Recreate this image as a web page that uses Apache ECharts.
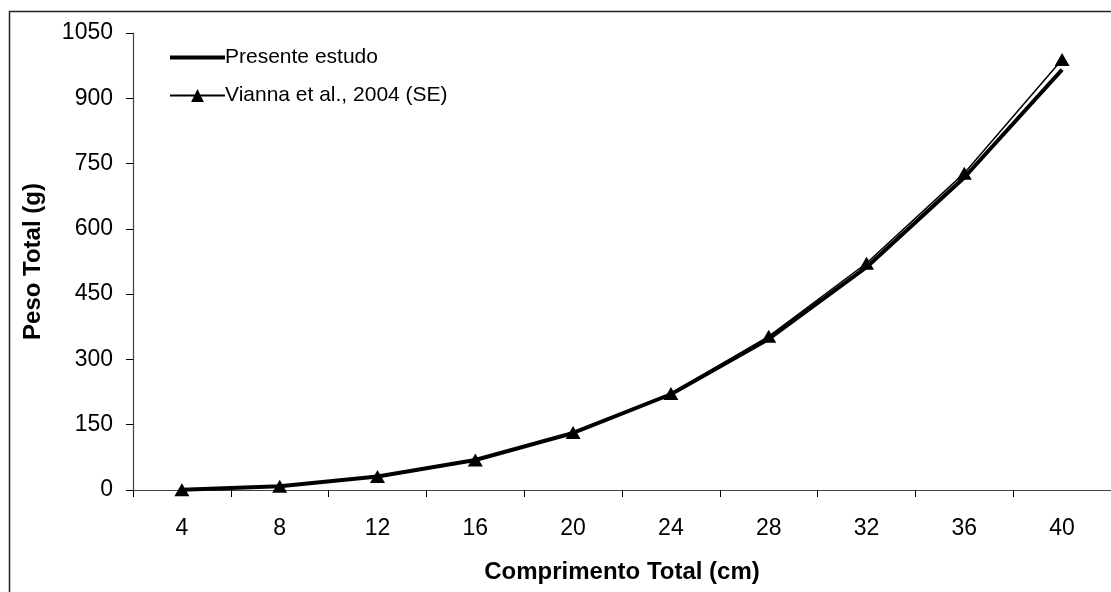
<!DOCTYPE html>
<html>
<head>
<meta charset="utf-8">
<script src="https://cdn.jsdelivr.net/npm/echarts@6/dist/echarts.min.js"></script>
<style>
html,body{margin:0;padding:0;background:#fff;}
#c{width:1111px;height:592px;}
</style>
</head>
<body>
<div id="c"></div>
<script>
const categories = ['4','8','12','16','20','24','28','32','36','40'];
const presenteEstudo = [0.3, 8.5, 31, 69, 131, 220, 347, 512, 718, 966];
const vianna2004 = [0.3, 8.5, 31, 69, 132, 222, 353, 521, 728, 989];
const yTicks = { min: 0, max: 1050, interval: 150 };

const FONT = '"Liberation Sans", Arial, sans-serif';
const chart = echarts.init(document.getElementById('c'), null, { renderer: 'canvas' });
chart.setOption({
  animation: false,
  backgroundColor: '#fff',
  textStyle: { fontFamily: FONT },
  graphic: [{
    type: 'rect',
    shape: { x: 9.5, y: 11.5, width: 1140, height: 620 },
    style: { fill: 'none', stroke: '#222', lineWidth: 1.5 },
    silent: true
  }],
  grid: { left: 133, top: 33, right: -13, bottom: 102, containLabel: false },
  legend: {
    orient: 'vertical',
    left: 163, top: 42,
    itemWidth: 55, itemHeight: 16, itemGap: 17,
    textStyle: { fontFamily: FONT, fontSize: 21, color: '#000', padding: [0,0,0,-5] },
    data: [
      { name: 'Presente estudo', lineStyle: { width: 4, color: '#000' }, itemStyle: { opacity: 0 } },
      { name: 'Vianna et al., 2004 (SE)', lineStyle: { width: 1.8, color: '#000' } }
    ]
  },
  xAxis: {
    type: 'category',
    data: categories,
    boundaryGap: true,
    name: 'Comprimento Total (cm)',
    nameLocation: 'middle',
    nameGap: 70,
    nameTextStyle: { fontFamily: FONT, fontSize: 24, fontWeight: 'bold', color: '#000' },
    axisLine: { lineStyle: { color: '#444', width: 1.2 } },
    axisTick: { show: true, length: 7, alignWithLabel: false, lineStyle: { color: '#000', width: 1 } },
    axisLabel: { fontFamily: FONT, fontSize: 23, color: '#000', margin: 27 },
    splitLine: { show: false }
  },
  yAxis: {
    type: 'value',
    min: yTicks.min, max: yTicks.max, interval: yTicks.interval,
    name: 'Peso Total (g)',
    nameLocation: 'middle',
    nameGap: 88,
    nameTextStyle: { fontFamily: FONT, fontSize: 24, fontWeight: 'bold', color: '#000' },
    axisLine: { show: true, lineStyle: { color: '#444', width: 1.2 } },
    axisTick: { show: true, length: 7, lineStyle: { color: '#000', width: 1 } },
    axisLabel: { fontFamily: FONT, fontSize: 23, color: '#000', margin: 20, formatter: v => String(v) },
    splitLine: { show: false }
  },
  series: [
    {
      name: 'Presente estudo',
      type: 'line',
      data: presenteEstudo,
      symbol: 'none',
      lineStyle: { color: '#000', width: 4 },
      itemStyle: { color: '#000' },
      z: 2
    },
    {
      name: 'Vianna et al., 2004 (SE)',
      type: 'line',
      data: vianna2004,
      symbol: 'triangle',
      symbolSize: [15, 13],
      lineStyle: { color: '#000', width: 1.5 },
      itemStyle: { color: '#000' },
      z: 3
    }
  ]
});
</script>
</body>
</html>
